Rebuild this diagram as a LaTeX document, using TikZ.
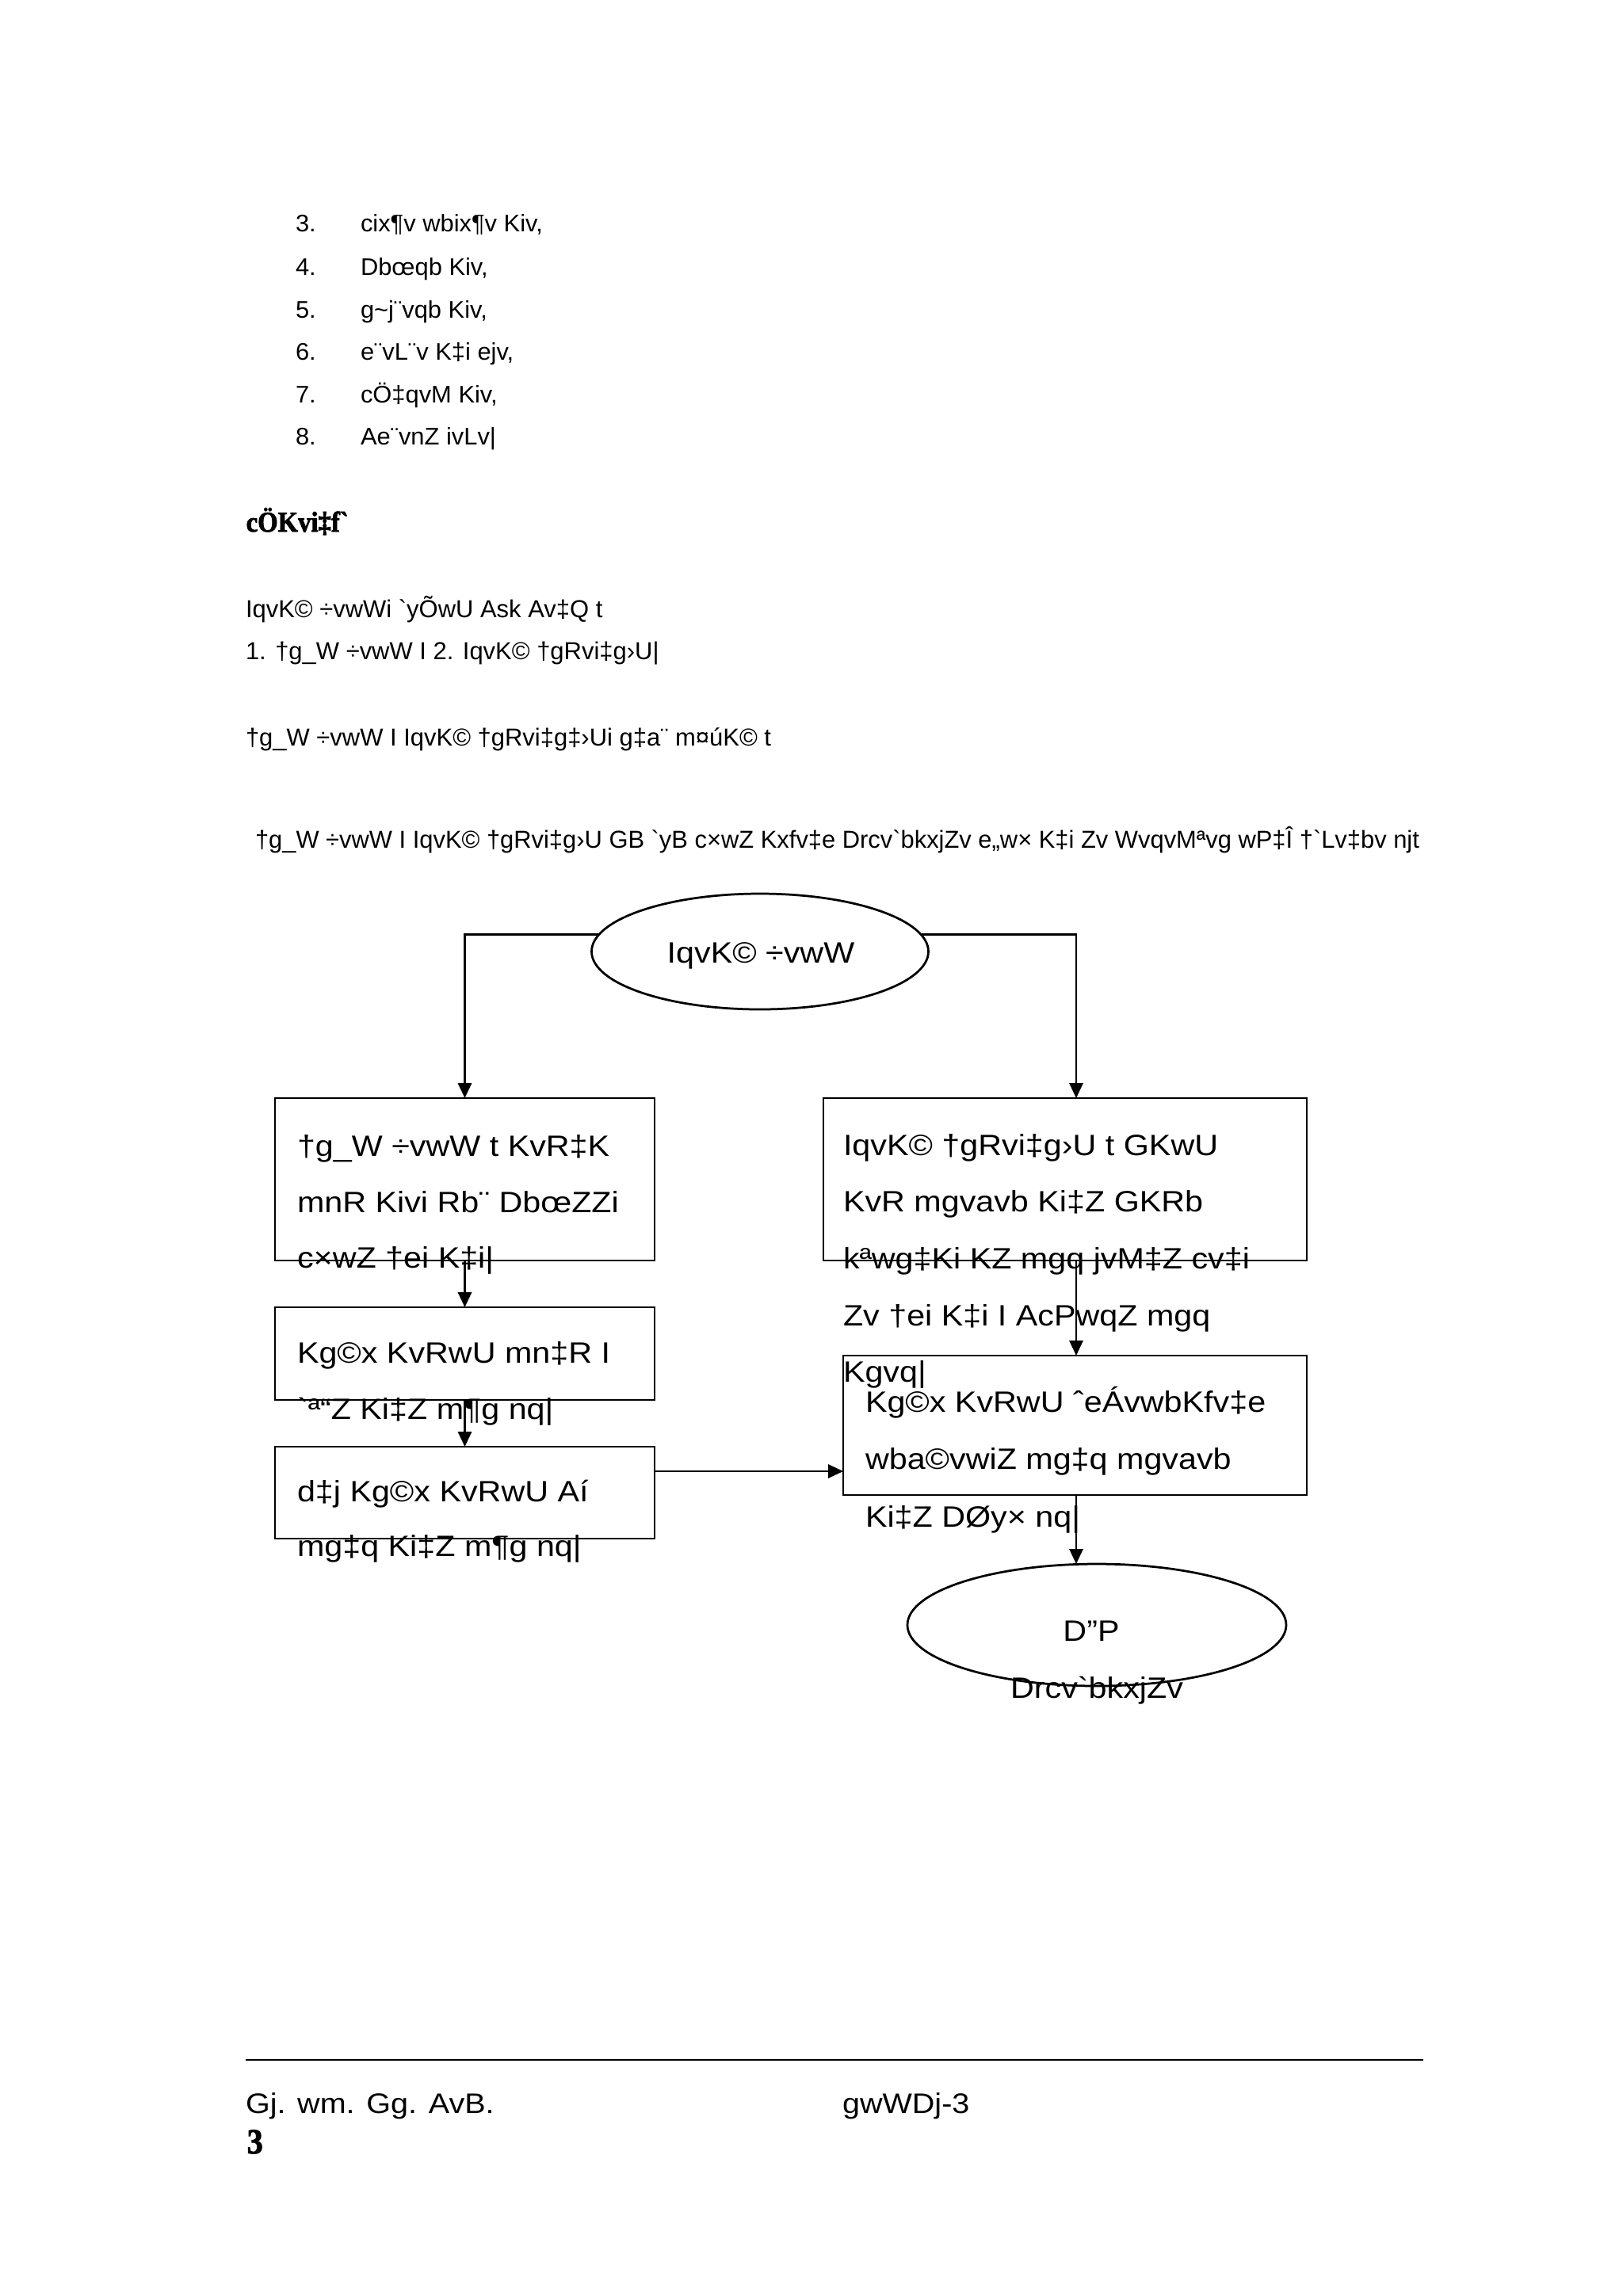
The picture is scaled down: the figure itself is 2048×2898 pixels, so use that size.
\documentclass[tikz,border=0pt]{standalone}
\usepackage{fontspec}
\usepackage{graphicx}
\newfontfamily\ar{Liberation Sans}
\newfontfamily\hdf{Liberation Serif}[BoldFeatures={FakeBold=2.2}]
\usetikzlibrary{arrows.meta,calc,shapes.geometric}
\newlength\natw
\newcommand\fitw[2]{\settowidth\natw{#2}\pgfmathsetmacro\sfac{#1*0.2907/\natw}\scalebox{\sfac}[1]{#2}}
\newcommand\lx[1]{\scalebox{1.02}[1]{#1}}
\newcommand\dx[1]{\scalebox{1}[0.9]{#1}}
\def\u{0.2907pt}
\begin{document}
\begin{tikzpicture}[x=0.2907pt,y=-0.2907pt,
  lst/.style={inner sep=0pt, outer sep=0pt, anchor=base west, font=\ar\fontsize{8.8}{10}\selectfont},
  para/.style={inner sep=0pt, outer sep=0pt, anchor=base west, font=\ar\fontsize{9}{11}\selectfont},
  dg/.style={inner sep=0pt, outer sep=0pt, anchor=base west, font=\ar\fontsize{12}{14}\selectfont},
  dgc/.style={dg, anchor=base},
  box/.style={draw, line width=0.7pt, inner sep=0pt, outer sep=0pt, anchor=north west},
  ell/.style={draw, ellipse, line width=0.8pt, inner sep=0pt, outer sep=0pt},
  conn/.style={line width=0.7pt, -{Triangle[length=5.5pt,width=5pt]}},
  foot/.style={inner sep=0pt, outer sep=0pt, anchor=base west, font=\ar\fontsize{11.5}{13}\selectfont}
]
\useasboundingbox (0,0) rectangle (2048,2898);

% numbered list
\node[lst] (n3) at (373,292) {\lx{3.}};
\node[lst] (i3) at (455,292) {\lx{cix¶v wbix¶v Kiv,}};
\node[lst] (n4) at (373,347) {\lx{4.}};
\node[lst] (i4) at (455,347) {\lx{Dbœqb Kiv,}};
\node[lst] (n5) at (373,401) {\lx{5.}};
\node[lst] (i5) at (455,401) {\lx{g\char"7E j¨vqb Kiv,}};
\node[lst] (n6) at (373,454) {\lx{6.}};
\node[lst] (i6) at (455,454) {\lx{e¨vL¨v K‡i ejv,}};
\node[lst] (n7) at (373,508) {\lx{7.}};
\node[lst] (i7) at (455,508) {\lx{cÖ‡qvM Kiv,}};
\node[lst] (n8) at (373,561) {\lx{8.}};
\node[lst] (i8) at (455,561) {\lx{Ae¨vnZ ivLv|}};

% heading
\node[inner sep=0pt, anchor=base west, font=\hdf\bfseries\fontsize{10.5}{12}\selectfont] (hd) at (310,671)
  {\fitw{129}{cÖKvi‡f`}};

% paragraph lines
\node[para] (p1) at (310,779) {IqvK© ÷vwWi `yÕwU Ask Av‡Q t};
\node[para] (p2) at (310,832) {1. †g\_W ÷vwW I 2. IqvK© †gRvi‡g›U|};
\node[para] (p3) at (310,941) {†g\_W ÷vwW I IqvK© †gRvi‡g‡›Ui g‡a¨ m¤úK© t};
\node[para] (p4) at (322,1070) {\fitw{1469}{†g\_W ÷vwW I IqvK© †gRvi‡g›U GB `yB c×wZ Kxfv‡e Drcv`bkxjZv e„w× K‡i Zv WvqvMªvg wP‡Î †`Lv‡bv njt}};

% diagram shapes
\node[ell, minimum width=425*\u, minimum height=146*\u] (top) at (959,1201) {};
\node[box, minimum width=479*\u, minimum height=205*\u] (lb1) at (347,1386) {};
\node[box, minimum width=479*\u, minimum height=117*\u] (lb2) at (347,1650) {};
\node[box, minimum width=479*\u, minimum height=116*\u] (lb3) at (347,1826) {};
\node[box, minimum width=610*\u, minimum height=205*\u] (rb1) at (1039,1386) {};
\node[box, minimum width=585*\u, minimum height=176*\u] (rb2) at (1064,1711) {};
\node[ell, minimum width=478*\u, minimum height=154*\u] (bot) at (1384,2051) {};

\coordinate (rbx) at (1358,0);
\coordinate (ay) at (0,1857);

% connectors
\draw[conn] (top.174) -| (lb1.north);
\draw[conn] (top.6) -| (rbx |- rb1.north);
\draw[conn] (lb1.south) -- (lb2.north);
\draw[conn] (lb2.south) -- (lb3.north);
\draw[conn] (lb3.east |- ay) -- (rb2.west |- ay);
\draw[conn] (rbx |- rb1.south) -- (rbx |- rb2.north);
\draw[conn] (rbx |- rb2.south) -- (rbx |- bot.north);

% diagram texts
\node[dgc] (toptx) at (960,1215) {\dx{IqvK© ÷vwW}};

\node[dg] (lb1a) at (375,1459) {\dx{†g\_W ÷vwW t KvR‡K}};
\node[dg] (lb1b) at (375,1530) {\dx{mnR Kivi Rb¨ DbœZZi}};
\node[dg] (lb1c) at (375,1600) {\dx{c×wZ †ei K‡i|}};

\node[dg] (lb2a) at (375,1720) {\dx{Kg©x KvRwU mn‡R I}};
\node[dg] (lb2b) at (375,1791) {\dx{`ª“Z Ki‡Z m¶g nq|}};

\node[dg] (lb3a) at (375,1895) {\dx{d‡j Kg©x KvRwU Aí}};
\node[dg] (lb3b) at (375,1964) {\dx{mg‡q Ki‡Z m¶g nq|}};

\node[dg] (rb1a) at (1064,1458) {\dx{IqvK© †gRvi‡g›U t GKwU}};
\node[dg] (rb1b) at (1064,1529) {\dx{KvR mgvavb Ki‡Z GKRb}};
\node[dg] (rb1c) at (1064,1601) {\dx{kªwg‡Ki KZ mgq jvM‡Z cv‡i}};
\node[dg] (rb1d) at (1064,1673) {\dx{Zv †ei K‡i I AcPwqZ mgq}};
\node[dg] (rb1e) at (1064,1744) {\dx{Kgvq|}};

\node[dg] (rb2a) at (1092,1782) {\dx{Kg©x KvRwU ˆeÁvwbKfv‡e}};
\node[dg] (rb2b) at (1092,1854) {\dx{wba©vwiZ mg‡q mgvavb}};
\node[dg] (rb2c) at (1092,1927) {\dx{Ki‡Z DØy× nq|}};

\node[dgc] (bota) at (1377,2071) {\dx{D”P}};
\node[dgc] (botb) at (1384,2143) {\dx{Drcv`bkxjZv}};

% footer
\coordinate (fl) at (310,2600);
\coordinate (fr) at (1796,2600);
\draw[line width=0.8pt] (fl) -- (fr);
\node[foot] (f1) at (310,2667) {\dx{Gj. wm. Gg. AvB.}};
\node[foot] (f2) at (1063,2667) {\dx{gwWDj-3}};
\node[inner sep=0pt, anchor=base west, font=\hdf\bfseries\fontsize{13}{15}\selectfont] (f3) at (311,2718) {\scalebox{0.9}[1]{3}};
\end{tikzpicture}
\end{document}
